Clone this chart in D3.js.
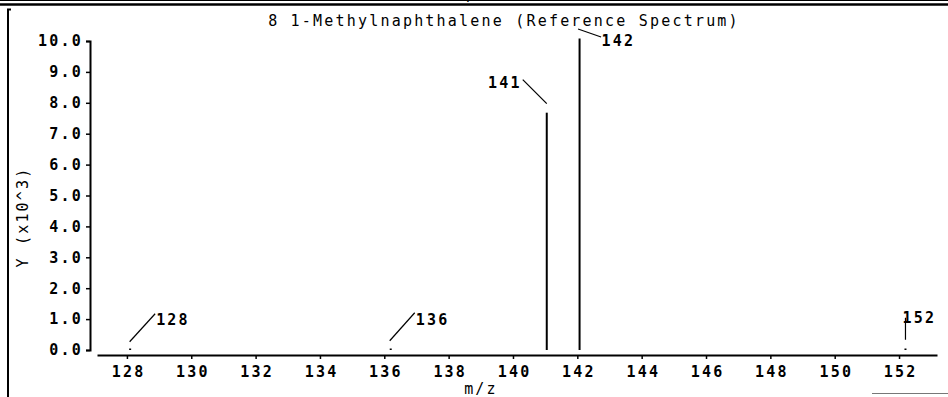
<!DOCTYPE html>
<html>
<head>
<meta charset="utf-8">
<script src="https://cdn.jsdelivr.net/npm/d3@7"></script>
<style>
  html, body { margin: 0; padding: 0; background: #fff; }
  svg { display: block; }
  text { font-family: "DejaVu Sans Mono", "Liberation Mono", monospace; font-size: 15px; letter-spacing: 2.2px; fill: #000; }
  .bold text, text.bold { font-weight: bold; letter-spacing: 2.2px; }
</style>
</head>
<body>
<div id="chart"></div>
<script>
// ---- data ----
const title = "8 1-Methylnaphthalene (Reference Spectrum)";
const xLabel = "m/z";
const yLabel = "Y (x10^3)";
const peakMz = [128.1, 136.2, 141.05, 142.07, 152.2];
const peakIntensity = [0.04, 0.04, 7.68, 10.08, 0.04];   // x10^3
const peakLabels = ["128", "136", "141", "142", "152"];
const xTickValues = [128, 130, 132, 134, 136, 138, 140, 142, 144, 146, 148, 150, 152];
const yTickValues = [0, 1, 2, 3, 4, 5, 6, 7, 8, 9, 10];

// ---- label leader styling (pixel offsets from the peak top) ----
const leaders = [
  { l: [-0.5, -7, 25, -35], t: [26, -24], anchor: "start" },
  { l: [-1, -8, 24, -36],   t: [25, -24], anchor: "start" },
  { l: [-24, -33, 0, -9],   t: [-25, -25], anchor: "end" },
  { l: [-1.5, -9.5, 21.5, -1.5], t: [22, 7], anchor: "start" },
  { l: [0, -9, 0, -31],     t: [-3, -26], anchor: "start" }
];

const W = 948, H = 397;
const svg = d3.select("#chart").append("svg").attr("width", W).attr("height", H);

// frame remnants
svg.append("line").attr("x1", 0).attr("x2", W).attr("y1", 0.5).attr("y2", 0.5).attr("stroke", "#000").attr("stroke-width", 1);
svg.append("line").attr("x1", 0).attr("x2", W).attr("y1", 4.5).attr("y2", 4.5).attr("stroke", "#000").attr("stroke-width", 2.5);
svg.append("text").attr("x", 472).attr("y", 0.5).attr("text-anchor", "middle").text(xLabel);
svg.append("path").attr("d", "M11,9.5H8V" + H).attr("fill", "none").attr("stroke", "#000").attr("stroke-width", 2);
svg.append("line").attr("x1", 872).attr("x2", W).attr("y1", 393.5).attr("y2", 393.5).attr("stroke", "#777").attr("stroke-width", 1);

// scales
const x = d3.scaleLinear().domain([127.07, 153.18]).range([97, 937]);
const y = d3.scaleLinear().domain([0, 10]).range([350, 41]);

// y axis
const yAxis = svg.append("g").attr("class", "bold").attr("transform", "translate(90,0)")
  .call(d3.axisLeft(y).tickValues(yTickValues).tickFormat(d3.format(".1f")).tickSize(4).tickPadding(4));
yAxis.select(".domain").attr("stroke-width", 2);
yAxis.selectAll(".tick line").attr("stroke-width", 1.5);
yAxis.selectAll("text").attr("font-family", null).attr("font-size", null).attr("dx", "1px");

// x axis
const xAxis = svg.append("g").attr("class", "bold").attr("transform", "translate(0,355)")
  .call(d3.axisBottom(x).tickValues(xTickValues).tickFormat(d3.format("d")).tickSize(4).tickSizeOuter(0).tickPadding(7));
xAxis.select(".domain").attr("stroke-width", 2);
xAxis.selectAll(".tick line").attr("stroke-width", 1.5);
xAxis.selectAll("text").attr("font-family", null).attr("font-size", null).attr("dx", "1.1px");
svg.selectAll(".tick text").attr("fill", "#000");
svg.selectAll(".domain, .tick line").attr("stroke", "#000");

// peaks
const peaks = peakMz.map((m, i) => ({ mz: m, v: peakIntensity[i], label: peakLabels[i], ld: leaders[i] }));
svg.append("g").selectAll("line").data(peaks).join("line")
  .attr("x1", d => x(d.mz)).attr("x2", d => x(d.mz))
  .attr("y1", y(0)).attr("y2", d => Math.min(y(d.v), y(0) - 1.5))
  .attr("stroke", "#000").attr("stroke-width", 2);

// leaders + labels
const ann = svg.append("g").attr("class", "bold");
ann.selectAll("line").data(peaks).join("line")
  .attr("x1", d => x(d.mz) + d.ld.l[0]).attr("y1", d => y(d.v) + d.ld.l[1])
  .attr("x2", d => x(d.mz) + d.ld.l[2]).attr("y2", d => y(d.v) + d.ld.l[3])
  .attr("stroke", "#000").attr("stroke-width", 1.2);
ann.selectAll("text").data(peaks).join("text")
  .attr("x", d => x(d.mz) + d.ld.t[0]).attr("y", d => y(d.v) + d.ld.t[1])
  .attr("text-anchor", d => d.ld.anchor)
  .text(d => d.label);

// title
svg.append("text").attr("x", 504).attr("y", 26).attr("text-anchor", "middle").text(title);
// x label
svg.append("text").attr("x", 481).attr("y", 394).attr("text-anchor", "middle").text(xLabel);
// y label
svg.append("text").attr("transform", "translate(28,217) rotate(-90)").attr("text-anchor", "middle").text(yLabel);
</script>
</body>
</html>
